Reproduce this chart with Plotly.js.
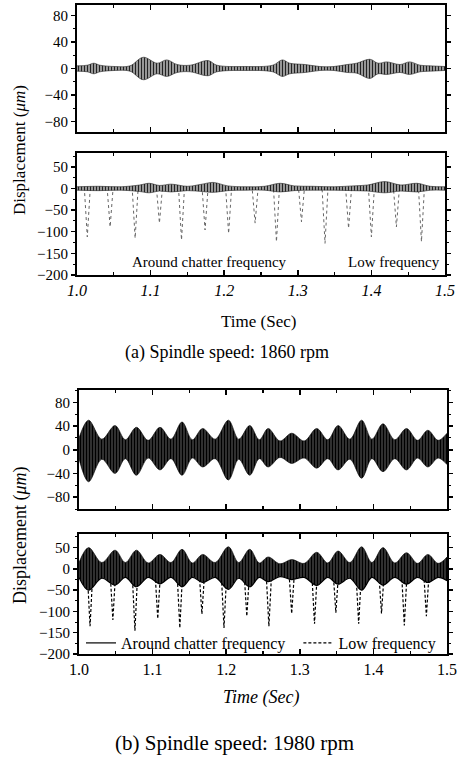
<!DOCTYPE html>
<html>
<head>
<meta charset="utf-8">
<script src="https://cdn.plot.ly/plotly-3.0.1.min.js"></script>
<style>html,body{margin:0;padding:0;background:#fff;}#chart{width:466px;height:767px;}</style>
</head>
<body>
<div id="chart"></div>
<script>
// ---------- (a) 1860 rpm : chatter envelope, top panel ----------
const a1Time  = [1.000,1.014,1.023,1.031,1.052,1.072,1.090,1.109,1.122,1.136,1.154,1.178,1.190,1.228,1.266,1.279,1.289,1.310,1.330,1.349,1.367,1.380,1.398,1.409,1.421,1.439,1.452,1.466,1.480,1.500];
const a1Upper = [4,5,8,5,3,4,17,8,13,6,5,12,5,3,5,13,8,6,3,3,6,8,14,8,10,6,10,5,4,3];
const a1Lower = [-4,-5,-8,-5,-3,-4,-17,-8,-12,-6,-5,-11,-5,-3,-5,-12,-8,-6,-3,-3,-6,-7,-15,-8,-9,-6,-9,-5,-4,-3];

// ---------- (a) bottom panel : around chatter frequency ----------
const a2Time  = [1.000,1.030,1.060,1.085,1.098,1.112,1.128,1.150,1.170,1.185,1.205,1.230,1.255,1.276,1.295,1.320,1.350,1.375,1.395,1.418,1.440,1.462,1.480,1.500];
const a2Upper = [4,5,4,8,12,7,10,5,10,14,6,4,5,12,6,5,4,6,8,16,8,12,5,4];
const a2Lower = [-4,-5,-4,-7,-10,-6,-8,-5,-7,-9,-5,-4,-4,-8,-5,-4,-4,-5,-6,-10,-6,-8,-4,-4];
// low frequency dips (a)
const a2SpikeTime  = [1.014,1.045,1.079,1.112,1.142,1.174,1.206,1.242,1.271,1.305,1.337,1.369,1.400,1.434,1.468];
const a2SpikeDepth = [-112,-89,-115,-80,-119,-96,-104,-80,-123,-77,-127,-92,-112,-89,-123];

// ---------- (b) 1980 rpm : chatter envelope, top panel ----------
const bTime   = [1.000,1.013,1.031,1.049,1.063,1.078,1.094,1.110,1.125,1.140,1.154,1.168,1.185,1.203,1.217,1.232,1.245,1.257,1.273,1.289,1.306,1.323,1.338,1.352,1.368,1.384,1.398,1.413,1.429,1.445,1.460,1.474,1.488,1.500];
const b1Upper = [20,50,18,41,17,38,16,38,18,47,17,36,18,50,18,41,17,36,15,28,15,36,17,41,18,50,18,44,17,36,16,33,16,28];
const b1Lower = [-15,-54,-16,-40,-15,-43,-14,-34,-15,-43,-14,-29,-15,-51,-16,-43,-15,-29,-13,-23,-14,-31,-15,-34,-16,-48,-15,-37,-15,-34,-14,-29,-14,-25];
// (b) bottom panel
const b2Upper = [15,50,15,44,15,44,14,34,15,46,14,34,15,52,15,46,14,28,12,22,13,39,14,42,15,52,15,50,14,38,13,34,13,28];
const b2Lower = [-20,-50,-22,-38,-20,-42,-20,-35,-20,-42,-20,-32,-20,-48,-22,-42,-20,-30,-18,-25,-20,-39,-20,-36,-22,-50,-20,-38,-20,-36,-20,-32,-20,-28];
const b2SpikeTime  = [1.015,1.046,1.076,1.107,1.137,1.167,1.197,1.228,1.258,1.289,1.320,1.349,1.380,1.411,1.442,1.472];
const b2SpikeDepth = [-135,-120,-145,-117,-139,-106,-139,-111,-135,-105,-129,-103,-129,-105,-133,-111];

const xTickVals = [1.0,1.1,1.2,1.3,1.4,1.5];
const xTickText = ['1.0','1.1','1.2','1.3','1.4','1.5'];

// build V-shaped dips of the low frequency signal from the dip arrays
function dipTrace(times, depths, halfWidth){
  const x=[1.0], y=[0];
  for(let i=0;i<times.length;i++){
    x.push(times[i]-halfWidth, times[i], times[i]+halfWidth);
    y.push(0, depths[i], 0);
  }
  x.push(1.5); y.push(0);
  return {x, y};
}

const FONT = 'Liberation Serif';
const W=466, H=767;
const px = v => v/W;
const py = v => 1 - v/H;

function envelope(t, lo, up, xa, ya, fg, bg, legendName){
  return [
    {x:t, y:lo, xaxis:xa, yaxis:ya, type:'scatter', mode:'lines',
     line:{color:fg, width: legendName ? 1.2 : 0.6, shape:'spline'}, hoverinfo:'skip',
     name: legendName || 'lo', showlegend: !!legendName, legendrank:1},
    {x:t, y:up, xaxis:xa, yaxis:ya, type:'scatter', mode:'lines', fill:'tonexty',
     fillcolor:bg,
     fillpattern:{shape:'|', fgcolor:fg, bgcolor:bg, size:3, solidity:0.45},
     line:{color:fg, width:0.6, shape:'spline'}, hoverinfo:'skip', showlegend:false}
  ];
}

const a2Dips = dipTrace(a2SpikeTime, a2SpikeDepth, 0.004);
const b2Dips = dipTrace(b2SpikeTime, b2SpikeDepth, 0.004);

const traces = [
  ...envelope(a1Time, a1Lower, a1Upper, 'x', 'y', '#222', '#b0b0b0'),
  {x:a2Dips.x, y:a2Dips.y, xaxis:'x2', yaxis:'y2', type:'scatter', mode:'lines',
   line:{color:'#666', width:1, dash:'dot'}, hoverinfo:'skip', showlegend:false},
  ...envelope(a2Time, a2Lower, a2Upper, 'x2', 'y2', '#222', '#b0b0b0'),
  ...envelope(bTime, b1Lower, b1Upper, 'x3', 'y3', '#000', '#3a3a3a'),
  {x:b2Dips.x, y:b2Dips.y, xaxis:'x4', yaxis:'y4', type:'scatter', mode:'lines',
   line:{color:'#000', width:1.2, dash:'3px,2px'}, hoverinfo:'skip',
   name:'Low frequency', showlegend:true, legendrank:2},
  ...envelope(bTime, b2Lower, b2Upper, 'x4', 'y4', '#000', '#3a3a3a', 'Around chatter frequency\u00a0\u00a0')
];

function xax(domain, anchor, showLabels, italic){
  return {domain, anchor, range:[1.0,1.5], showgrid:false, zeroline:false,
    showline:true, linecolor:'#000', linewidth:2, mirror:'ticks',
    ticks:'inside', ticklen:5, tickwidth:1.5, tickcolor:'#000',
    tickvals:xTickVals, ticktext:xTickText, showticklabels:showLabels,
    minor:{dtick:0.05, tick0:1.0, ticks:'inside', ticklen:3, tickcolor:'#000', tickwidth:1.2},
    tickfont:{family:FONT, size:16, color:'#000', style: italic?'italic':'normal'},
    automargin:false, fixedrange:true};
}
function yax(domain, anchor, range, dtick, minorDtick){
  return {domain, anchor, range, showgrid:false, zeroline:false,
    showline:true, linecolor:'#000', linewidth:2, mirror:'ticks',
    ticks:'outside', ticklen:4, tickwidth:1.5, tickcolor:'#000',
    dtick, tick0:0,
    minor:{dtick:minorDtick, tick0:0, ticks:'outside', ticklen:2, tickcolor:'#000', tickwidth:1},
    tickfont:{family:FONT, size:15, color:'#000'},
    automargin:false, fixedrange:true};
}

function note(text, x, y, size, extra){
  return Object.assign({text, x:px(x), y:py(y), xref:'paper', yref:'paper',
    xanchor:'center', yanchor:'middle', showarrow:false,
    font:{family:FONT, size, color:'#000'}}, extra||{});
}

const layout = {
  width:W, height:H, margin:{l:0,r:0,t:0,b:0},
  paper_bgcolor:'#fff', plot_bgcolor:'#fff',
  font:{family:FONT, color:'#000'},
  xaxis:  xax([px(77),px(445)], 'y',  false, true),
  yaxis:  yax([py(132),py(5)],  'x',  [-96,96], 40, 20),
  xaxis2: xax([px(77),px(445)], 'y2', true, true),
  yaxis2: yax([py(275),py(153)],'x2', [-200,82], 50, 25),
  xaxis3: xax([px(79),px(447)], 'y3', false, false),
  yaxis3: yax([py(509),py(390)],'x3', [-100,101], 40, 20),
  xaxis4: xax([px(79),px(447)], 'y4', true, false),
  yaxis4: yax([py(654),py(534)],'x4', [-200,82], 50, 25),
  showlegend:true,
  legend:{orientation:'h', x:px(81), y:py(643), xanchor:'left', yanchor:'middle',
    bgcolor:'rgba(0,0,0,0)', borderwidth:0, font:{family:FONT, size:16, color:'#000'},
    traceorder:'normal'},
  annotations:[
    note('Displacement (<i>μm</i>)', 20, 150, 17, {textangle:-90}),
    note('Around chatter frequency', 209, 262, 15),
    note('Low frequency', 442, 262, 15, {xanchor:'right'}),
    note('Time (Sec)', 258, 322, 17),
    note('(a) Spindle speed: 1860 rpm', 227, 352, 18),
    note('Displacement (<i>μm</i>)', 20, 535, 18, {textangle:-90}),
    note('<i>Time (Sec)</i>', 261, 697, 18),
    note('(b) Spindle speed: 1980 rpm', 234, 743, 21)
  ]
};

Plotly.newPlot('chart', traces, layout, {staticPlot:true, displayModeBar:false});
</script>
</body>
</html>
